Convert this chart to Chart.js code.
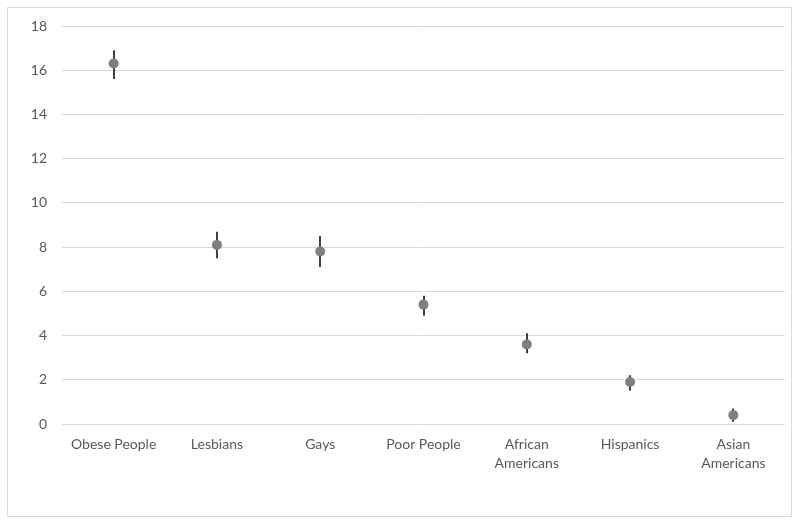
<!DOCTYPE html>
<html>
<head>
<meta charset="utf-8">
<script src="https://cdn.jsdelivr.net/npm/chart.js@4/dist/chart.umd.min.js"></script>
<style>
  html, body { margin: 0; padding: 0; background: #fff; }
  .chart-box { position: relative; width: 800px; height: 525px; }
</style>
</head>
<body>
<div class="chart-box"><canvas id="myChart"></canvas></div>
<script>
// chart data
const categories = [
  "Obese People",
  "Lesbians",
  "Gays",
  "Poor People",
  ["African", "Americans"],
  "Hispanics",
  ["Asian", "Americans"],
];
const meanValues = [16.3, 8.1, 7.8, 5.4, 3.6, 1.9, 0.4];
const errorUp = [0.6, 0.6, 0.7, 0.4, 0.5, 0.3, 0.3];
const errorDown = [0.7, 0.6, 0.7, 0.5, 0.4, 0.4, 0.3];
const yTicks = [0, 2, 4, 6, 8, 10, 12, 14, 16, 18];

// draws the error bars + the outer frame
const errorBarPlugin = {
  id: "errorBars",
  beforeDatasetsDraw(chart) {
    let ctx = chart.ctx;
    let xScale = chart.scales.x;
    let yScale = chart.scales.y;
    ctx.save();
    ctx.strokeStyle = "#404040";
    ctx.lineWidth = 2;
    meanValues.forEach((v, k) => {
      let x = Math.round(xScale.getPixelForValue(k));
      ctx.beginPath();
      ctx.moveTo(x, yScale.getPixelForValue(v + errorUp[k]));
      ctx.lineTo(x, yScale.getPixelForValue(v - errorDown[k]));
      ctx.stroke();
    });
    ctx.restore();
  },
  afterDraw(chart) {
    let ctx = chart.ctx;
    ctx.save();
    ctx.strokeStyle = "#d9d9d9";
    ctx.lineWidth = 1;
    ctx.strokeRect(7.5, 7.5, 784, 509);
    ctx.restore();
  },
};

const config = {
  type: "line",
  data: {
    labels: categories,
    datasets: [
      {
        data: meanValues,
        showLine: false,
        pointRadius: 5,
        pointHoverRadius: 5,
        pointBackgroundColor: "#7f7f7f",
        pointBorderColor: "#7f7f7f",
        pointBorderWidth: 0,
      },
    ],
  },
  options: {
    responsive: true,
    maintainAspectRatio: false,
    animation: false,
    layout: { padding: { top: 26, right: 15, bottom: 0, left: 0 } },
    plugins: { legend: { display: false }, tooltip: { enabled: false } },
    scales: {
      x: {
        type: "category",
        offset: true,
        grid: { display: false, drawTicks: false },
        border: { display: false },
        ticks: {
          color: "#595959",
          padding: 11,
          maxRotation: 0,
          autoSkip: false,
          font: { family: "Lato", size: 14, lineHeight: 1.35 },
        },
        afterFit: (scale) => {
          scale.height = 101;
        },
      },
      y: {
        min: 0,
        max: 18,
        afterBuildTicks: (scale) => {
          scale.ticks = yTicks.map((t) => ({ value: t }));
        },
        grid: { color: "#d9d9d9", lineWidth: 1, drawTicks: false },
        border: { display: false },
        ticks: {
          color: "#595959",
          padding: 15,
          font: { family: "Lato", size: 14 },
        },
        afterFit: (scale) => {
          scale.width = 62;
        },
      },
    },
  },
  plugins: [errorBarPlugin],
};

const myChart = new Chart(document.getElementById("myChart"), config);
</script>
</body>
</html>
